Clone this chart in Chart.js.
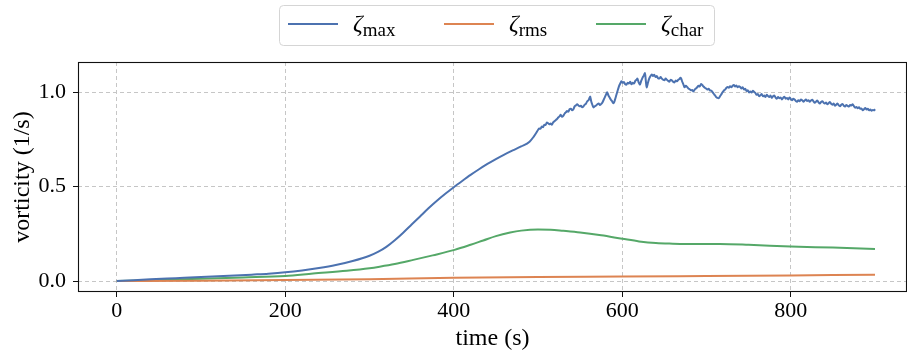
<!DOCTYPE html>
<html>
<head>
<meta charset="utf-8">
<script src="https://cdn.jsdelivr.net/npm/chart.js@4/dist/chart.umd.min.js"></script>
<style>
  html, body { margin: 0; padding: 0; background: #fff; overflow: hidden; }
  #wrap { position: relative; width: 907px; height: 353px; }
</style>
</head>
<body>
<div id="wrap"><canvas id="chart"></canvas></div>
<script>
// Peak vorticity over the run (s, 1/s)
const maxTime = [
  0, 20, 40, 60, 80, 100, 120, 140, 160, 180,
  200, 220, 240, 260, 280, 300, 310, 320, 330, 340,
  350, 360, 370, 380, 390, 400, 410, 420, 430, 440,
  450, 460, 470, 480, 490, 495, 498, 500, 501.5, 503,
  504.5, 506, 507.5, 509, 510.5, 512, 513.5, 515, 516.5, 518,
  519.5, 521, 522.5, 524, 525.5, 527, 528.5, 530, 531.5, 533,
  534.5, 536, 537.5, 539, 540.5, 542, 543.5, 545, 546.5, 548,
  549.5, 551, 552.5, 554, 555.5, 557, 558.5, 560, 561, 562,
  563, 564, 565, 566, 567.5, 569, 570.5, 572, 573.5, 575,
  576.5, 578, 579.5, 581, 582, 583.5, 585, 586.5, 588, 589,
  590, 591.5, 593, 594.5, 596, 597.5, 599, 600.5, 602, 603.5,
  605, 606.5, 608, 609.5, 611, 612.5, 614, 615.5, 617, 618,
  619.5, 621, 622.5, 624, 625.5, 627, 628, 629, 630.5, 632,
  633.5, 635, 636.5, 638, 639.5, 641, 642.5, 644, 645.5, 647,
  648.5, 650, 651.5, 653, 654.5, 656, 657.5, 659, 660.5, 662,
  663.5, 665, 666.5, 668, 669, 670, 671, 672, 673, 674,
  675.5, 677, 678.5, 680, 681.5, 683, 684.5, 686, 687.5, 689,
  690.5, 692, 693.5, 695, 696.5, 698, 699.5, 701, 702.5, 704,
  705.5, 707, 708.5, 710, 711.5, 713, 714.5, 716, 717.5, 719,
  720.5, 722, 723.5, 725, 726.5, 728, 729.5, 731, 732.5, 734,
  735.5, 737, 738.5, 740, 741.5, 743, 744.5, 746, 747.5, 749,
  750.5, 752, 753.5, 755, 756.5, 758, 759.5, 761, 762.5, 764,
  765.5, 767, 768.5, 770, 771.5, 773, 774.5, 776, 777.5, 779,
  780.5, 782, 783.5, 785, 786.5, 788, 789.5, 791, 792.5, 794,
  795.5, 797, 798.5, 800, 801.5, 803, 804.5, 806, 807.5, 809,
  810.5, 812, 813.5, 815, 816.5, 818, 819.5, 821, 822.5, 824,
  825.5, 827, 828.5, 830, 831.5, 833, 834.5, 836, 837.5, 839,
  840.5, 842, 843.5, 845, 846.5, 848, 849.5, 851, 852.5, 854,
  855.5, 857, 858.5, 860, 861.5, 863, 864.5, 866, 867.5, 869,
  870.5, 872, 873.5, 875, 876.5, 878, 879.5, 881, 882.5, 884,
  885.5, 887, 888.5, 890, 891.5, 893, 894.5, 896, 897.5, 899,
  900
];
const maxValues = [
  0.000, 0.004, 0.009, 0.013, 0.017, 0.021, 0.025, 0.029, 0.034, 0.039,
  0.046, 0.056, 0.069, 0.085, 0.106, 0.134, 0.154, 0.181, 0.216, 0.256,
  0.299, 0.342, 0.385, 0.425, 0.462, 0.497, 0.530, 0.562, 0.592, 0.620,
  0.646, 0.670, 0.692, 0.713, 0.738, 0.765, 0.785, 0.800, 0.808, 0.806,
  0.818, 0.815, 0.828, 0.826, 0.840, 0.836, 0.830, 0.834, 0.828, 0.840,
  0.846, 0.852, 0.858, 0.866, 0.872, 0.880, 0.870, 0.875, 0.886, 0.893,
  0.900, 0.897, 0.910, 0.913, 0.904, 0.910, 0.925, 0.930, 0.936, 0.930,
  0.926, 0.928, 0.920, 0.925, 0.934, 0.940, 0.952, 0.958, 0.968, 0.977,
  0.955, 0.940, 0.928, 0.919, 0.926, 0.930, 0.936, 0.940, 0.932, 0.938,
  0.946, 0.960, 0.975, 0.990, 1.000, 0.984, 0.972, 0.960, 0.952, 0.944,
  0.942, 0.962, 0.985, 1.008, 1.030, 1.045, 1.058, 1.050, 1.054, 1.042,
  1.040, 1.050, 1.046, 1.055, 1.042, 1.050, 1.046, 1.060, 1.066, 1.072,
  1.052, 1.040, 1.060, 1.076, 1.088, 1.102, 1.060, 1.025, 1.050, 1.072,
  1.085, 1.094, 1.086, 1.092, 1.080, 1.086, 1.074, 1.072, 1.080, 1.072,
  1.066, 1.063, 1.072, 1.066, 1.060, 1.056, 1.066, 1.062, 1.055, 1.052,
  1.062, 1.058, 1.066, 1.070, 1.076, 1.072, 1.058, 1.048, 1.036, 1.026,
  1.034, 1.028, 1.020, 1.016, 1.010, 1.012, 1.004, 1.014, 1.020, 1.026,
  1.034, 1.030, 1.044, 1.038, 1.030, 1.024, 1.020, 1.014, 1.018, 1.010,
  1.008, 1.002, 0.992, 0.984, 0.974, 0.970, 0.968, 0.978, 0.988, 1.000,
  1.008, 1.014, 1.022, 1.028, 1.024, 1.032, 1.026, 1.034, 1.038, 1.030,
  1.036, 1.026, 1.032, 1.028, 1.020, 1.026, 1.014, 1.018, 1.006, 1.010,
  0.998, 1.004, 0.998, 1.008, 1.002, 0.996, 0.986, 0.990, 0.978, 0.984,
  0.990, 0.978, 0.982, 0.974, 0.986, 0.980, 0.974, 0.982, 0.970, 0.978,
  0.982, 0.972, 0.966, 0.974, 0.968, 0.972, 0.962, 0.970, 0.976, 0.966,
  0.970, 0.962, 0.972, 0.964, 0.958, 0.966, 0.962, 0.954, 0.950, 0.958,
  0.952, 0.962, 0.958, 0.950, 0.956, 0.962, 0.954, 0.958, 0.950, 0.956,
  0.960, 0.952, 0.944, 0.950, 0.956, 0.946, 0.940, 0.948, 0.952, 0.944,
  0.940, 0.946, 0.936, 0.942, 0.948, 0.938, 0.934, 0.940, 0.928, 0.934,
  0.940, 0.930, 0.926, 0.934, 0.938, 0.928, 0.924, 0.932, 0.928, 0.924,
  0.932, 0.930, 0.936, 0.926, 0.918, 0.922, 0.915, 0.920, 0.912, 0.914,
  0.904, 0.910, 0.916, 0.908, 0.912, 0.904, 0.908, 0.902, 0.906, 0.904,
  0.910
];

// Root-mean-square vorticity
const rmsTime = [0, 100, 200, 300, 400, 500, 600, 700, 800, 900];
const rmsValues = [0.000, 0.002, 0.005, 0.010, 0.018, 0.022, 0.024, 0.027, 0.030, 0.033];

// Characteristic vorticity
const charTime = [
  0, 50, 100, 150, 200, 233, 273, 300, 312, 330,
  352, 375, 401, 420, 435, 450, 467, 480, 500, 515,
  530, 550, 575, 600, 620, 640, 660, 690, 716, 750,
  800, 850, 900
];
const charValues = [
  0.000, 0.006, 0.012, 0.019, 0.027, 0.040, 0.055, 0.068, 0.076, 0.090,
  0.112, 0.136, 0.165, 0.192, 0.215, 0.238, 0.257, 0.267, 0.273, 0.272,
  0.266, 0.257, 0.242, 0.224, 0.210, 0.201, 0.198, 0.196, 0.196, 0.192,
  0.183, 0.177, 0.170
];

const xTickValues = [0, 200, 400, 600, 800];
const yTickValues = [0.0, 0.5, 1.0];

const seriesSymbol = 'ζ';
const seriesSubscripts = ['max', 'rms', 'char'];
const seriesColors = ['#4C72B0', '#DD8452', '#55A868'];

const SERIF = "'Liberation Serif', 'DejaVu Serif', serif";
const tickFont = { family: SERIF, size: 22 };
const titleFont = { family: SERIF, size: 24 };

function points(xs, ys) {
  return xs.map((x, i) => ({ x: x, y: ys[i] }));
}

// Full black frame around the plotting area
const framePlugin = {
  id: 'frame',
  afterDatasetsDraw(chart) {
    const { ctx, chartArea: a } = chart;
    ctx.save();
    ctx.strokeStyle = '#111';
    ctx.lineWidth = 1.1;
    ctx.strokeRect(a.left + 0.5, a.top + 0.5, a.right - a.left - 1, a.bottom - a.top - 1);
    ctx.restore();
  }
};

// Legend with subscripted symbols, boxed above the axes
const legendPlugin = {
  id: 'subLegend',
  afterDraw(chart) {
    const { ctx } = chart;
    const box = { x: 279.5, y: 5.5, w: 435, h: 40, r: 4 };
    const itemX = [288, 444, 596];
    const lineY = 24;
    ctx.save();
    ctx.beginPath();
    ctx.roundRect(box.x, box.y, box.w, box.h, box.r);
    ctx.fillStyle = 'rgba(255,255,255,0.8)';
    ctx.fill();
    ctx.strokeStyle = '#d5d5d5';
    ctx.lineWidth = 1;
    ctx.stroke();
    chart.data.datasets.forEach((ds, i) => {
      const x0 = itemX[i];
      ctx.beginPath();
      ctx.moveTo(x0, lineY);
      ctx.lineTo(x0 + 50, lineY);
      ctx.strokeStyle = ds.borderColor;
      ctx.lineWidth = 2;
      ctx.stroke();
      ctx.fillStyle = '#000';
      ctx.textBaseline = 'alphabetic';
      ctx.textAlign = 'left';
      ctx.font = 'italic 24px ' + SERIF;
      const tx = x0 + 65;
      ctx.fillText(seriesSymbol, tx, 31);
      const w = ctx.measureText(seriesSymbol).width;
      ctx.font = '19px ' + SERIF;
      ctx.fillText(seriesSubscripts[i], tx + w, 36);
    });
    ctx.restore();
  }
};

new Chart(document.getElementById('chart'), {
  type: 'line',
  data: {
    datasets: [
      { label: seriesSymbol + seriesSubscripts[0], data: points(maxTime, maxValues), borderColor: seriesColors[0] },
      { label: seriesSymbol + seriesSubscripts[1], data: points(rmsTime, rmsValues), borderColor: seriesColors[1] },
      { label: seriesSymbol + seriesSubscripts[2], data: points(charTime, charValues), borderColor: seriesColors[2] }
    ]
  },
  options: {
    responsive: true,
    maintainAspectRatio: false,
    animation: false,
    devicePixelRatio: 1,
    layout: { padding: { top: 62, left: 0, right: 0, bottom: 0 } },
    elements: {
      point: { radius: 0, hoverRadius: 0 },
      line: { borderWidth: 2, cubicInterpolationMode: 'monotone', fill: false, borderJoinStyle: 'round', borderCapStyle: 'butt' }
    },
    plugins: {
      legend: { display: false },
      tooltip: { enabled: false },
      title: { display: false }
    },
    scales: {
      x: {
        type: 'linear',
        min: -46,
        max: 938,
        afterBuildTicks(s) { s.ticks = xTickValues.map(v => ({ value: v })); },
        afterFit(s) { s.height = 61; s.paddingLeft = 0; s.paddingRight = 0; },
        ticks: { font: tickFont, color: '#000', padding: 1, maxRotation: 0, callback: v => String(v) },
        grid: {
          color: '#c6c6c6', lineWidth: 1,
          drawTicks: true, tickLength: 5, tickColor: '#111', tickWidth: 1, tickBorderDash: []
        },
        border: { display: false, dash: [4, 3] },
        title: { display: true, text: 'time (s)', font: titleFont, color: '#000', padding: { top: 0, bottom: 0 } }
      },
      y: {
        type: 'linear',
        min: -0.058,
        max: 1.16,
        afterBuildTicks(s) { s.ticks = yTickValues.map(v => ({ value: v })); },
        afterFit(s) { s.width = 78; },
        ticks: { font: tickFont, color: '#000', padding: 7, callback: v => v.toFixed(1) },
        grid: {
          color: '#c6c6c6', lineWidth: 1,
          drawTicks: true, tickLength: 5, tickColor: '#111', tickWidth: 1, tickBorderDash: []
        },
        border: { display: false, dash: [4, 3] },
        title: { display: true, text: 'vorticity (1/s)', font: titleFont, color: '#000', padding: { top: 8, bottom: 0 } }
      }
    }
  },
  plugins: [framePlugin, legendPlugin]
});
</script>
</body>
</html>
